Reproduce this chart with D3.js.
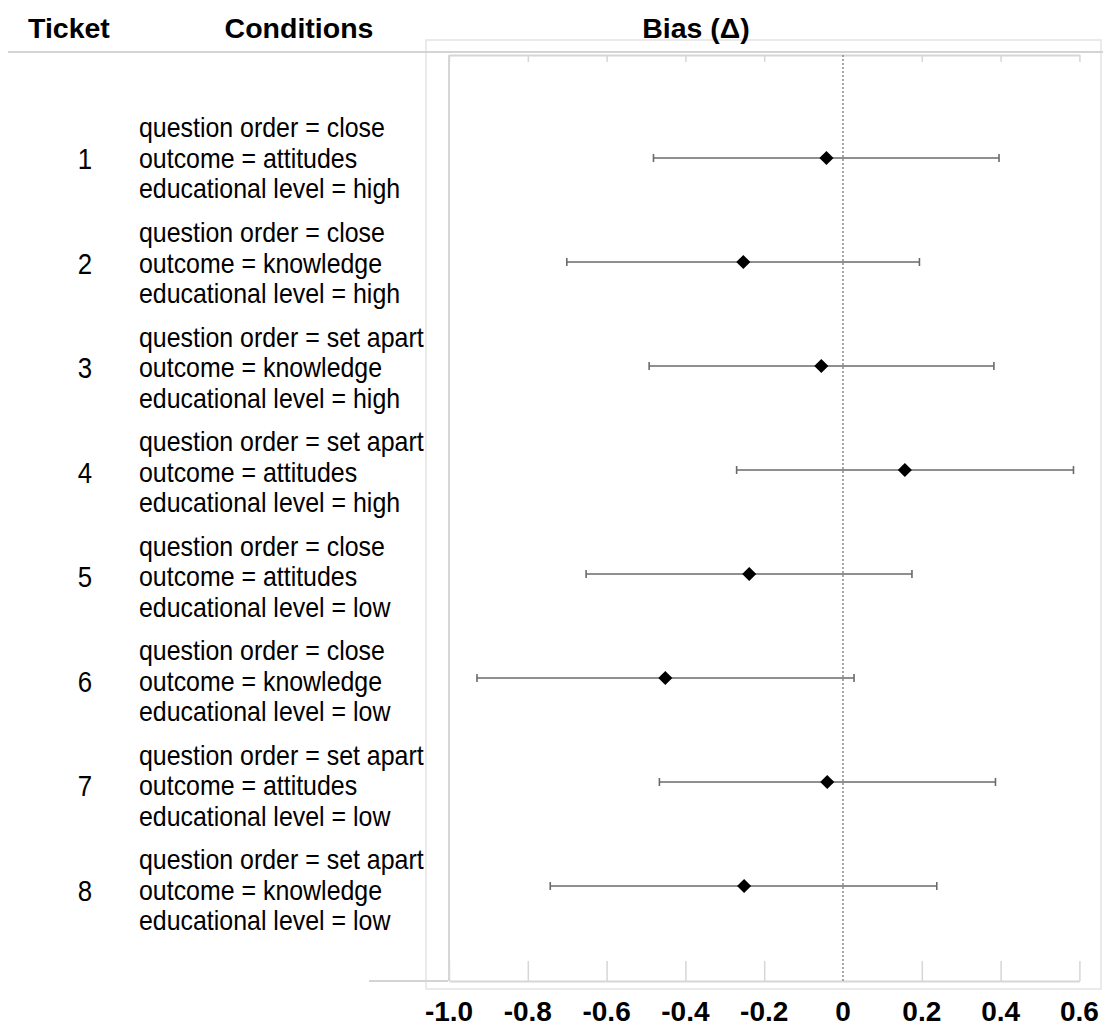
<!DOCTYPE html>
<html>
<head>
<meta charset="utf-8">
<script src="https://cdn.jsdelivr.net/npm/d3@7"></script>
<style>
  body { margin: 0; background: #fff; }
  text { font-family: "Liberation Sans", Arial, sans-serif; fill: #000; }
</style>
</head>
<body>
<script>
// data
var tickets = [1, 2, 3, 4, 5, 6, 7, 8];
var questionOrder = ["close", "close", "set apart", "set apart", "close", "close", "set apart", "set apart"];
var outcome = ["attitudes", "knowledge", "knowledge", "attitudes", "attitudes", "knowledge", "attitudes", "knowledge"];
var eduLevel = ["high", "high", "high", "high", "low", "low", "low", "low"];
var bias = [-0.042, -0.253, -0.055, 0.157, -0.238, -0.451, -0.040, -0.251];
var lower = [-0.481, -0.701, -0.492, -0.270, -0.652, -0.929, -0.466, -0.743];
var upper = [0.396, 0.194, 0.383, 0.585, 0.175, 0.028, 0.387, 0.238];
var xTicks = [-1.0, -0.8, -0.6, -0.4, -0.2, 0, 0.2, 0.4, 0.6];
var xTickLabels = ["-1.0", "-0.8", "-0.6", "-0.4", "-0.2", "0", "0.2", "0.4", "0.6"];

var W = 1103, H = 1030;
var svg = d3.select("body").append("svg")
        .attr("width", W)
        .attr("height", H);

var x = d3.scaleLinear().domain([-1, 0.6]).range([449, 1079.4]);
var y = d3.scalePoint().domain(tickets).range([158, 886]);
// the label column has its own slightly different spacing
var yLab = d3.scalePoint().domain(tickets).range([159, 891]);

var plotTop = 55, plotBottom = 981;

// outer light box
svg.append("rect")
        .attr("x", 426).attr("y", 40)
        .attr("width", 675).attr("height", 949)
        .attr("fill", "none").attr("stroke", "#e4e4e4").attr("stroke-width", 1.5);

// header separator + bottom-left rule
svg.append("line").attr("x1", 8).attr("x2", W).attr("y1", 52).attr("y2", 52)
        .attr("stroke", "#d4d4d4").attr("stroke-width", 2);
svg.append("line").attr("x1", 369).attr("x2", 448).attr("y1", plotBottom).attr("y2", plotBottom)
        .attr("stroke", "#d4d4d4").attr("stroke-width", 2);

// inner frame: top and bottom axes with ticks, left line
var topAxis = d3.axisBottom(x).tickValues(xTicks).tickSize(7).tickSizeOuter(0).tickFormat("");
var gTop = svg.append("g").attr("transform", "translate(0," + plotTop + ")").call(topAxis);
var botAxis = d3.axisTop(x).tickValues(xTicks).tickSize(20).tickSizeOuter(0).tickFormat("");
var gBot = svg.append("g").attr("transform", "translate(0," + plotBottom + ")").call(botAxis);
[gTop, gBot].forEach(function(g){
    g.select(".domain").attr("stroke", "#d6d6d6").attr("stroke-width", 2);
    g.selectAll(".tick line").attr("stroke", "#d6d6d6").attr("stroke-width", 1.5);
    g.selectAll(".tick").filter(function(d){ return d === 0; }).remove();
});

svg.append("line").attr("x1", x(-1)).attr("x2", x(-1)).attr("y1", plotTop).attr("y2", plotBottom)
        .attr("stroke", "#d6d6d6").attr("stroke-width", 2);

// zero reference line
svg.append("line").attr("x1", x(0)).attr("x2", x(0)).attr("y1", plotTop).attr("y2", plotBottom)
        .attr("stroke", "#8a8a8a").attr("stroke-width", 1.5).attr("stroke-dasharray", "2,2");

// tick labels below
svg.selectAll("text.xlab")
        .data(xTicks)
        .enter().append("text")
        .attr("class", "xlab")
        .attr("x", function(d){ return x(d); })
        .attr("y", 1021)
        .attr("text-anchor", "middle")
        .attr("font-size", 28)
        .attr("font-weight", "bold")
        .text(function(d, i){ return xTickLabels[i]; });

// headers
svg.append("text").attr("x", 28).attr("y", 38).attr("font-size", 28.5).attr("font-weight", "bold").text("Ticket");
svg.append("text").attr("x", 299).attr("y", 38).attr("text-anchor", "middle").attr("font-size", 28.5).attr("font-weight", "bold").text("Conditions");
svg.append("text").attr("x", 696).attr("y", 38).attr("text-anchor", "middle").attr("font-size", 28.5).attr("font-weight", "bold").text("Bias (Δ)");

// left columns, narrow text
var sx = 0.89;
var labG = svg.append("g").attr("transform", "scale(" + sx + ",1)");

labG.selectAll("text.tnum")
        .data(tickets)
        .enter().append("text")
        .attr("class", "tnum")
        .attr("x", 85 / sx)
        .attr("y", function(d){ return yLab(d) + 10; })
        .attr("text-anchor", "middle")
        .attr("font-size", 29)
        .text(function(d){ return d; });

var rows = labG.selectAll("g.cond")
        .data(tickets)
        .enter().append("g")
        .attr("class", "cond");

rows.each(function(d, i){
    var lines = ["question order = " + questionOrder[i],
                 "outcome = " + outcome[i],
                 "educational level = " + eduLevel[i]];
    d3.select(this).selectAll("text")
        .data(lines)
        .enter().append("text")
        .attr("x", 139 / sx)
        .attr("y", function(t, j){ return yLab(d) + 9 + (j - 1) * 30.5; })
        .attr("font-size", 28)
        .text(function(t){ return t; });
});

// error bars
var bars = svg.selectAll("g.bar")
        .data(tickets)
        .enter().append("g")
        .attr("class", "bar");

bars.append("line")
        .attr("x1", function(d, i){ return x(lower[i]); })
        .attr("x2", function(d, i){ return x(upper[i]); })
        .attr("y1", function(d){ return y(d); })
        .attr("y2", function(d){ return y(d); })
        .attr("stroke", "#6a6a6a").attr("stroke-width", 1.6);

bars.selectAll("line.cap")
        .data(function(d, i){ return [{v: lower[i], t: d}, {v: upper[i], t: d}]; })
        .enter().append("line")
        .attr("class", "cap")
        .attr("x1", function(c){ return x(c.v); })
        .attr("x2", function(c){ return x(c.v); })
        .attr("y1", function(c){ return y(c.t) - 4; })
        .attr("y2", function(c){ return y(c.t) + 4; })
        .attr("stroke", "#6a6a6a").attr("stroke-width", 1.6);

bars.append("path")
        .attr("d", d3.symbol(d3.symbolSquare, 100))
        .attr("transform", function(d, i){ return "translate(" + x(bias[i]) + "," + y(d) + ") rotate(45)"; })
        .attr("fill", "#000");
</script>
</body>
</html>
